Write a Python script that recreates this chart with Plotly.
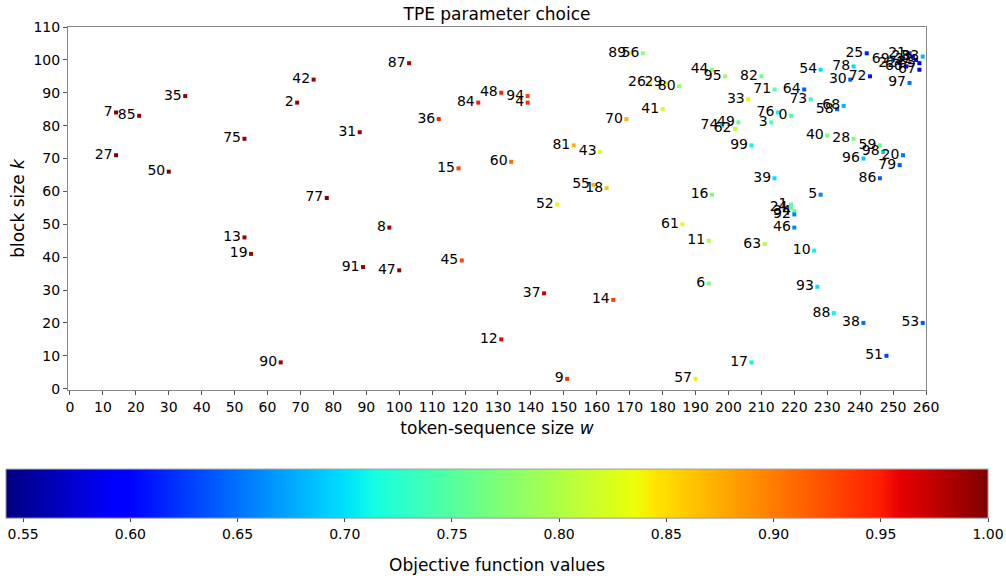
import plotly.graph_objects as go

trial = list(range(100))
w_vals = [219, 219, 69, 213, 139, 228, 194, 14, 97, 151,
          226, 194, 131, 53, 165, 118, 195, 207, 163, 55,
          253, 255, 252, 256, 219, 242, 176, 14, 238, 181,
          237, 88, 257, 206, 220, 35, 112, 144, 241, 214,
          230, 180, 74, 161, 195, 119, 220, 100, 131, 203,
          30, 248, 148, 259, 228, 159, 174, 190, 233, 246,
          134, 186, 202, 211, 223, 258, 254, 258, 235, 250,
          169, 214, 243, 225, 198, 53, 215, 78, 238, 252,
          185, 153, 210, 259, 124, 21, 246, 103, 232, 170,
          64, 89, 220, 227, 139, 199, 241, 255, 247, 207]
k_vals = [83, 56, 87, 81, 87, 59, 32, 84, 49, 3,
          42, 45, 15, 46, 27, 67, 59, 8, 61, 41,
          71, 102, 99, 101, 55, 102, 93, 71, 76, 93,
          94, 78, 100, 88, 54, 89, 82, 29, 20, 64,
          77, 85, 94, 72, 97, 39, 49, 36, 90, 81,
          66, 10, 56, 20, 97, 62, 102, 3, 85, 74,
          69, 50, 79, 44, 91, 99, 98, 97, 86, 100,
          82, 91, 95, 88, 80, 76, 84, 58, 98, 68,
          92, 74, 95, 101, 87, 83, 64, 99, 23, 102,
          8, 37, 53, 31, 89, 95, 70, 93, 72, 74]
obj_vals = [0.74, 0.75, 0.99, 0.75, 0.94, 0.66, 0.77, 1.00, 0.99, 0.94,
            0.71, 0.80, 0.96, 0.99, 0.93, 0.93, 0.77, 0.71, 0.86, 0.99,
            0.65, 0.62, 0.60, 0.58, 0.76, 0.61, 0.82, 1.00, 0.77, 0.83,
            0.64, 0.99, 0.57, 0.84, 0.75, 0.99, 0.95, 0.97, 0.65, 0.70,
            0.77, 0.82, 0.99, 0.83, 0.78, 0.93, 0.66, 0.99, 0.95, 0.76,
            1.00, 0.63, 0.84, 0.64, 0.70, 0.87, 0.78, 0.84, 0.64, 0.76,
            0.91, 0.83, 0.81, 0.80, 0.64, 0.59, 0.60, 0.58, 0.68, 0.66,
            0.87, 0.75, 0.61, 0.73, 0.70, 0.99, 0.71, 1.00, 0.70, 0.64,
            0.78, 0.87, 0.76, 0.68, 0.95, 0.99, 0.64, 0.98, 0.71, 0.84,
            0.99, 0.99, 0.66, 0.70, 0.93, 0.79, 0.69, 0.65, 0.69, 0.71]

# matplotlib-like jet colorscale
jet = [[0.0, "rgb(0,0,128)"], [0.11, "rgb(0,0,255)"], [0.125, "rgb(0,0,255)"],
       [0.34, "rgb(0,219,255)"], [0.35, "rgb(0,229,246)"], [0.375, "rgb(20,255,226)"],
       [0.5, "rgb(124,255,121)"], [0.64, "rgb(236,255,10)"], [0.66, "rgb(255,230,0)"],
       [0.89, "rgb(255,30,0)"], [0.91, "rgb(232,0,0)"], [1.0, "rgb(128,0,0)"]]

PLOT_TOP, PLOT_BOT = 27, 390
PH = PLOT_BOT - PLOT_TOP


def py(px):
    return (PLOT_BOT - px) / PH


fig = go.Figure()
fig.add_trace(go.Scatter(
    x=w_vals, y=k_vals, mode="markers+text",
    text=[str(t) for t in trial], textposition="middle left",
    textfont=dict(family="DejaVu Sans", size=14, color="black"),
    marker=dict(symbol="square", size=4, color=obj_vals, colorscale=jet,
                cmin=0.542, cmax=1.0, line=dict(width=0),
                colorbar=dict(orientation="h", x=0.5, xanchor="center",
                              y=py(493.5) - 12 / PH, yanchor="middle",
                              lenmode="pixels", len=982, thickness=49,
                              xpad=0, ypad=0,
                              outlinewidth=1, outlinecolor="#999999",
                              tick0=0.55, dtick=0.05, tickformat=".2f",
                              ticks="outside", ticklen=4,
                              tickfont=dict(family="DejaVu Sans", size=14, color="black"))),
    showlegend=False, hoverinfo="x+y+text"))

axis_common = dict(showgrid=False, zeroline=False, showline=True, mirror=True,
                   linecolor="#888888", linewidth=1, ticks="outside", ticklen=4,
                   tickcolor="#555555", dtick=10,
                   tickfont=dict(family="DejaVu Sans", size=14, color="black"))

fig.update_layout(
    width=1006, height=580,
    margin=dict(l=68, r=80, t=27, b=190),
    paper_bgcolor="white", plot_bgcolor="white",
    title=dict(text="TPE parameter choice", x=0.5, xref="paper", xanchor="center",
               y=0.975, yanchor="middle",
               font=dict(family="DejaVu Sans", size=17, color="black")),
    xaxis=dict(range=[-0.6, 260], title=dict(text="token-sequence size <i>w</i>",
               font=dict(family="DejaVu Sans", size=17, color="black"), standoff=8),
               **axis_common),
    yaxis=dict(range=[-0.4, 110], title=dict(text="block size <i>k</i>",
               font=dict(family="DejaVu Sans", size=17, color="black"), standoff=4),
               **axis_common),
    annotations=[dict(text="Objective function values", xref="paper", yref="paper",
                      x=(497 - 68) / 858, y=py(565), xanchor="center", yanchor="middle",
                      showarrow=False,
                      font=dict(family="DejaVu Sans", size=17, color="black"))],
)

fig.write_html("out.html")
